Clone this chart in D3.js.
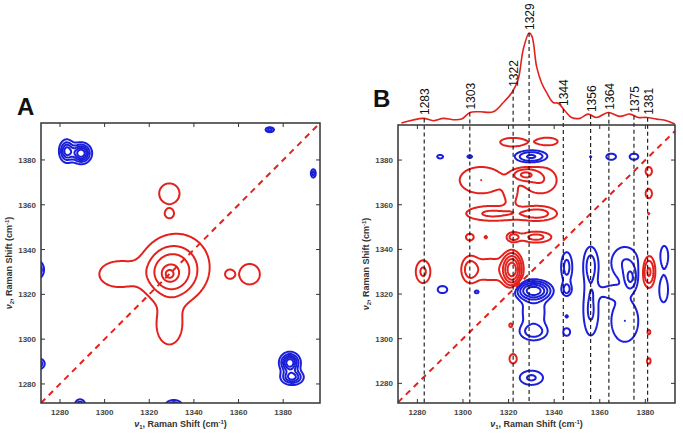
<!DOCTYPE html>
<html lang="en">
<head>
<meta charset="utf-8">
<title>2D correlation maps</title>
<script src="https://cdn.jsdelivr.net/npm/d3@7"></script>
<style>
  body { margin: 0; background: #fff; }
  text { font-family: "Liberation Sans", Arial, sans-serif; }
</style>
</head>
<body>
<script>
// ---------- data ----------
var ticks = [1280, 1300, 1320, 1340, 1360, 1380];
var peakLabels = [1283, 1303, 1322, 1329, 1344, 1356, 1364, 1375, 1381];

// 1D spectrum drawn above panel B (relative intensity)
var specNu  = [1273, 1282.6, 1287, 1291.4, 1295.8, 1299.4, 1303.1, 1307.5, 1313.3, 1317.7, 1321.4, 1324.2, 1326.4, 1329, 1330.3, 1332.3, 1334.5, 1336.7, 1339.6, 1341.8, 1344.7, 1347.6, 1351.3, 1354.9, 1358.6, 1363.7, 1368.8, 1373.2, 1376.8, 1380.5, 1384.9, 1389.3, 1392.9];
var specVal = [1.1, 6.2, 3.6, 6.2, 4.7, 5.4, 12.7, 13.4, 13.4, 23.6, 34.4, 48.9, 81.5, 100, 96, 63, 45, 34.4, 23.6, 22.8, 14.5, 7.2, 6.2, 10.9, 7.2, 12.7, 8.4, 10.9, 7.2, 7.2, 5.4, 3.6, 0];

// synchronous map (A): [nu1, nu2, width1, width2, amplitude]; off-diagonal peaks mirrored
var syncPeaks = [
  [1329, 1329, 1.8, 1.8, 0.36],
  [1329.5, 1329.5, 6.5, 6.5, 0.42],
  [1333, 1333, 9.5, 9.5, 0.18],
  [1306, 1329, 7.5, 5, 0.13],
  [1329, 1365, 3.3, 3.3, 0.18],
  [1329, 1356.1, 1.5, 1.5, 0.15],
  [1289.5, 1383, 2.6, 2.6, -0.12],
  [1283, 1384, 2, 3, -0.09],
  [1270, 1331, 1.8, 2.5, -0.07],
  [1270.5, 1289, 1.8, 1.6, -0.06],
  [1374, 1393.5, 1.4, 0.8, -0.05]
];
var syncLevels = [0.07, 0.19, 0.33, 0.54, 0.78];
var syncNegLevels = [0.02, 0.04, 0.06, 0.08, 0.1];

// asynchronous map (B): same layout, mirrored with opposite sign
var asyncPeaks = [
  [1322, 1388, 5, 1.7, 0.038],
  [1337, 1388.3, 4, 1.5, 0.038],
  [1308, 1371, 8, 5, 0.04],
  [1334, 1371, 6, 5, 0.04],
  [1327, 1373.5, 3.5, 1.8, 0.06],
  [1321, 1364, 2.5, 4, 0.025],
  [1313, 1356, 9, 2.5, 0.045],
  [1333, 1356, 6, 2.3, 0.05],
  [1303, 1345.5, 1.6, 1.4, 0.035],
  [1310, 1345.5, 0.8, 0.8, 0.025],
  [1322, 1345.5, 2, 1.5, 0.05],
  [1332, 1345.5, 5, 1.8, 0.05],
  [1303, 1331, 2.4, 4, 0.045],
  [1312, 1331, 7, 4.5, 0.035],
  [1321.5, 1331, 2.3, 4, 0.2],
  [1282.5, 1330, 2.5, 4, 0.045],
  [1322, 1291, 1.5, 2, 0.035],
  [1321, 1306, 0.9, 1.2, 0.03],
  [1381.5, 1375, 1.3, 1.8, 0.035],
  [1381.5, 1365, 1.3, 2, 0.035],
  [1381.5, 1356, 0.5, 0.5, 0.025],
  [1381.5, 1330, 1.8, 4.5, 0.08],
  [1381.5, 1303, 0.9, 1.5, 0.03],
  [1381.5, 1290, 0.9, 1.5, 0.03]
];
var asyncLevels = [0.02, 0.04, 0.07, 0.11, 0.16, 0.22, 0.29];

// ---------- setup ----------
var w = 683, h = 434;
var red = "#e3211d", blue = "#1b1fd9";
var g0 = 1260, step = 0.5, n = 285;

var svg = d3.select("body").append("svg")
  .attr("width", w).attr("height", h);

function buildField(peaks, sign) {
  var comps = [];
  peaks.forEach(function (p) {
    comps.push(p);
    if (p[0] !== p[1]) comps.push([p[1], p[0], p[3], p[2], sign * p[4]]);
  });
  var vals = new Float64Array(n * n);
  for (var j = 0; j < n; j++) {
    var y = g0 + j * step;
    for (var i = 0; i < n; i++) {
      var x = g0 + i * step, s = 0;
      for (var k = 0; k < comps.length; k++) {
        var c = comps[k];
        var dx = (x - c[0]) / c[2], dy = (y - c[1]) / c[3];
        var d2 = dx * dx + dy * dy;
        if (d2 < 40) s += c[4] * Math.exp(-0.5 * d2);
      }
      vals[i + j * n] = s;
    }
  }
  return vals;
}

function makePanel(id, x0, x1, y0, y1, domX, domY) {
  var xs = d3.scaleLinear().domain(domX).range([x0, x1]);
  var ys = d3.scaleLinear().domain(domY).range([y1, y0]);
  svg.append("clipPath").attr("id", id)
    .append("rect").attr("x", x0).attr("y", y0).attr("width", x1 - x0).attr("height", y1 - y0);
  var g = svg.append("g").attr("clip-path", "url(#" + id + ")");
  return { xs: xs, ys: ys, g: g, x0: x0, x1: x1, y0: y0, y1: y1 };
}

function drawContours(p, vals, levels, color) {
  var proj = d3.geoTransform({
    point: function (gx, gy) {
      this.stream.point(p.xs(g0 + (gx - 0.5) * step), p.ys(g0 + (gy - 0.5) * step));
    }
  });
  var path = d3.geoPath(proj);
  p.g.append("g").selectAll("path")
    .data(d3.contours().size([n, n]).thresholds(levels)(vals))
    .enter().append("path")
    .attr("d", path)
    .attr("fill", "none")
    .attr("stroke", color)
    .attr("stroke-width", 2)
    .attr("stroke-linejoin", "round");
}

function drawDiagonal(p) {
  var lo = Math.max(p.xs.domain()[0], p.ys.domain()[0]);
  var hi = Math.min(p.xs.domain()[1], p.ys.domain()[1]);
  p.g.append("line")
    .attr("x1", p.xs(lo)).attr("y1", p.ys(lo))
    .attr("x2", p.xs(hi)).attr("y2", p.ys(hi))
    .attr("stroke", red).attr("stroke-width", 2)
    .attr("stroke-dasharray", "6,5");
}

function drawFrame(p, letter, lx, ly) {
  var f = svg.append("g");
  f.append("rect")
    .attr("x", p.x0).attr("y", p.y0)
    .attr("width", p.x1 - p.x0).attr("height", p.y1 - p.y0)
    .attr("fill", "none").attr("stroke", "#333").attr("stroke-width", 1.5);
  ticks.forEach(function (t) {
    var x = p.xs(t), y = p.ys(t);
    f.append("line").attr("x1", x).attr("x2", x).attr("y1", p.y1).attr("y2", p.y1 - 4).attr("stroke", "#333");
    f.append("line").attr("x1", x).attr("x2", x).attr("y1", p.y0).attr("y2", p.y0 + 4).attr("stroke", "#333");
    f.append("line").attr("y1", y).attr("y2", y).attr("x1", p.x0).attr("x2", p.x0 + 4).attr("stroke", "#333");
    f.append("line").attr("y1", y).attr("y2", y).attr("x1", p.x1).attr("x2", p.x1 - 4).attr("stroke", "#333");
    f.append("text").attr("x", x).attr("y", p.y1 + 12)
      .attr("text-anchor", "middle").attr("font-size", 8).attr("font-weight", "bold")
      .attr("fill", "#444").text(t);
    f.append("text").attr("x", p.x0 - 5).attr("y", y + 3)
      .attr("text-anchor", "end").attr("font-size", 8).attr("font-weight", "bold")
      .attr("fill", "#444").text(t);
  });

  // axis titles
  var xt = f.append("text")
    .attr("x", (p.x0 + p.x1) / 2).attr("y", p.y1 + 24)
    .attr("text-anchor", "middle").attr("font-size", 9).attr("font-weight", "bold").attr("fill", "#333");
  axisTitle(xt, "1");
  var yt = f.append("text")
    .attr("transform", "translate(" + (p.x0 - 29) + "," + ((p.y0 + p.y1) / 2) + ") rotate(-90)")
    .attr("text-anchor", "middle").attr("font-size", 9).attr("font-weight", "bold").attr("fill", "#333");
  axisTitle(yt, "2");

  svg.append("text").attr("x", lx).attr("y", ly)
    .attr("font-size", 24).attr("font-weight", "bold").attr("fill", "#111").text(letter);
}

function axisTitle(t, sub) {
  t.append("tspan").attr("font-style", "italic").text("\u03bd");
  t.append("tspan").attr("font-size", 6).attr("dy", 2).text(sub);
  t.append("tspan").attr("dy", -2).text(", Raman Shift (cm");
  t.append("tspan").attr("font-size", 6).attr("dy", -3).text("-1");
  t.append("tspan").attr("dy", 3).text(")");
}

// ---------- panel A ----------
var pA = makePanel("clipA", 41, 320, 123, 403, [1271.5, 1396.5], [1271.5, 1396.5]);
var syncVals = buildField(syncPeaks, 1);
drawContours(pA, syncVals, syncLevels, red);
drawContours(pA, syncVals.map(function (v) { return -v; }), syncNegLevels, blue);
drawDiagonal(pA);
drawFrame(pA, "A", 17, 115);

// ---------- panel B ----------
var pB = makePanel("clipB", 398, 675, 125, 403, [1271.5, 1393], [1271.2, 1395.7]);
var asyncVals = buildField(asyncPeaks, -1);
drawContours(pB, asyncVals, asyncLevels, red);
drawContours(pB, asyncVals.map(function (v) { return -v; }), asyncLevels, blue);
drawDiagonal(pB);

// spectrum on top of B
var specY = d3.scaleLinear().domain([0, 100]).range([124, 33]);
var spec = specNu.map(function (v, i) { return [v, specVal[i]]; });
svg.append("path")
  .datum(spec)
  .attr("d", d3.line()
    .x(function (d) { return pB.xs(d[0]); })
    .y(function (d) { return specY(d[1]); })
    .curve(d3.curveCatmullRom))
  .attr("fill", "none").attr("stroke", red).attr("stroke-width", 1.6);

function specAt(v) {
  var i = d3.bisectLeft(specNu, v);
  if (i <= 0) return specVal[0];
  var a = specNu[i - 1], b = specNu[i];
  return specVal[i - 1] + (specVal[i] - specVal[i - 1]) * (v - a) / (b - a);
}

peakLabels.forEach(function (pk) {
  var x = pB.xs(pk), yTop = specY(specAt(pk));
  svg.append("line")
    .attr("x1", x).attr("x2", x).attr("y1", yTop).attr("y2", pB.y1)
    .attr("stroke", "#111").attr("stroke-width", 1.1).attr("stroke-dasharray", "4,3");
  var ly = Math.min(yTop - 3, 115);
  svg.append("text")
    .attr("transform", "translate(" + (x + 1) + "," + ly + ") rotate(-90)")
    .attr("dy", "0.35em").attr("font-size", 12).attr("fill", "#111").text(pk);
});

drawFrame(pB, "B", 373, 107);
</script>
</body>
</html>
